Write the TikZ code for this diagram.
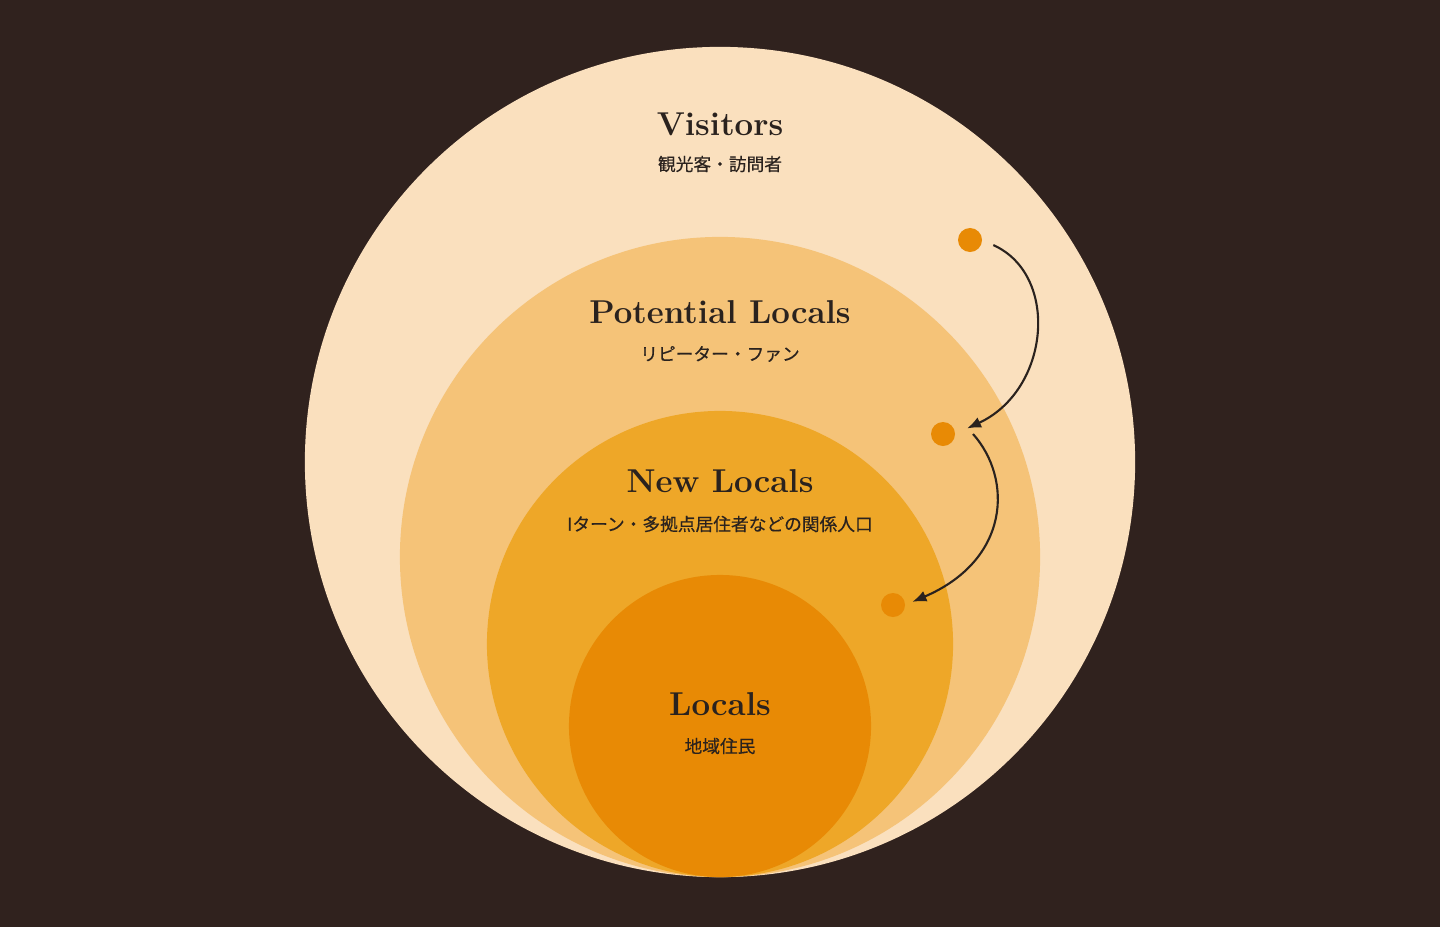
\documentclass[tikz,border=0pt]{standalone}
\usepackage{fontspec}
\usepackage{tikz}
\usetikzlibrary{arrows.meta,positioning}
\newfontfamily\jpfont[FakeBold=0.4]{Noto Sans CJK JP}
\definecolor{NightBrown}{RGB}{48,34,30}
\definecolor{VisitCream}{RGB}{250,224,190}
\definecolor{PotentialSand}{RGB}{245,195,120}
\definecolor{NewAmber}{RGB}{238,167,40}
\definecolor{LocalOrange}{RGB}{232,138,5}
\definecolor{InkBrown}{RGB}{42,34,30}
\tikzset{
  ring/.style={circle,inner sep=0pt,outer sep=0pt},
  dot/.style={circle,fill=LocalOrange,inner sep=0pt,outer sep=0pt,minimum size=.6cm},
  entitle/.style={InkBrown,anchor=base,font=\fontsize{23.5}{28}\selectfont\bfseries},
  jptitle/.style={InkBrown,font=\jpfont\fontsize{12.6}{15}\selectfont},
  flow/.style={InkBrown,line width=1.5pt,-{Latex[length=10pt,width=8pt]}}
}
\begin{document}
\begin{tikzpicture}[x=.025cm,y=-.025cm]
\fill[NightBrown] (0,0) rectangle (1440,927);
\foreach \nm/\r/\col in {vis/415/VisitCream,pot/320/PotentialSand,new/233/NewAmber,loc/151/LocalOrange}{
  \node[ring,fill=\col,minimum size={\r*.05cm}] (\nm) at (720,{877-\r}) {};}
\node[entitle] (visEn) at (720,135){Visitors};
\node[jptitle] (visJp) at (720,164){観光客・訪問者};
\node[entitle] (potEn) at (720,323){Potential Locals};
\node[jptitle] (potJp) at (720,354){リピーター・ファン};
\node[entitle] (newEn) at (720,492){New Locals};
\node[jptitle] (newJp) at (720,524){Iターン・多拠点居住者などの関係人口};
\node[entitle] (locEn) at (720,715){Locals};
\node[jptitle] (locJp) at (720,746){地域住民};
\node[dot] (dv) at (970,240){};
\node[dot] (dp) at (943,434){};
\node[dot] (dl) at (893,605){};
\draw[flow,shorten <=.31cm,shorten >=.33cm] (dv.east) .. controls +(78,35) and +(95,-44) .. (dp.east);
\draw[flow,shorten >=.2cm] ([xshift=.45cm]dp.east) .. controls +(40,45) and +(105,-45) .. (dl.east);
\end{tikzpicture}
\end{document}
